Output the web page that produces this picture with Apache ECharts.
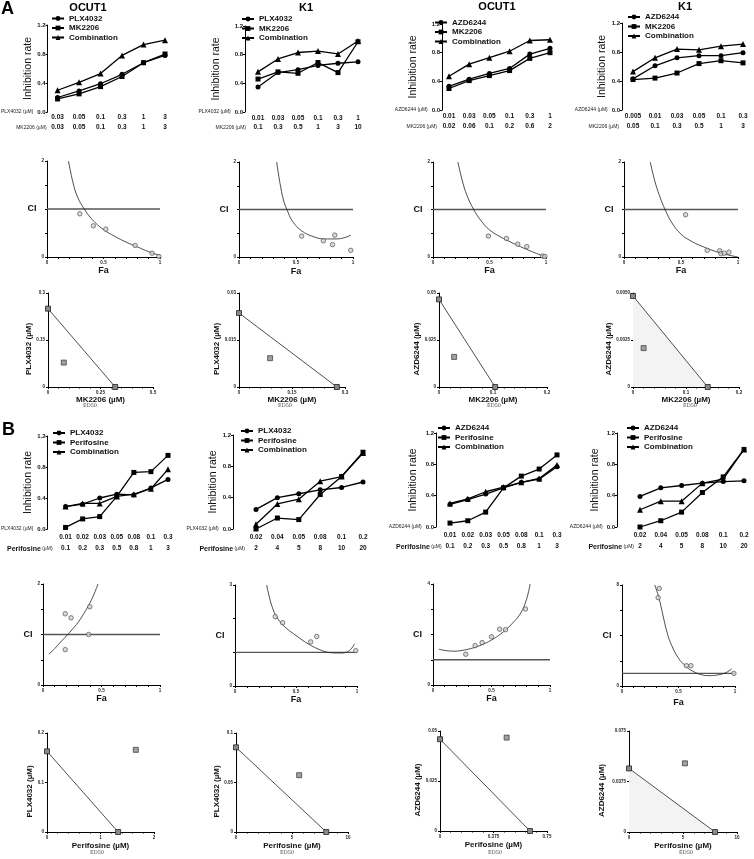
<!DOCTYPE html>
<html><head><meta charset="utf-8">
<script src="https://cdn.jsdelivr.net/npm/echarts@6/dist/echarts.min.js"></script>
<style>html,body{margin:0;padding:0;background:#fff}#c{width:754px;height:859px}</style>
</head><body><div id="c"></div>
<script>
// ================= DATA =================
// ---- Section A, row 1: inhibition rate vs dose ----
const A1_dose1 = ['0.03','0.05','0.1','0.3','1','3'];        // PLX4032 (µM)
const A1_dose2 = ['0.03','0.05','0.1','0.3','1','3'];        // MK2206 (µM)
const A1_drug1 = [0.20,0.29,0.39,0.52,0.68,0.78];
const A1_drug2 = [0.18,0.25,0.35,0.49,0.68,0.80];
const A1_comb  = [0.30,0.41,0.53,0.78,0.93,0.99];

const A2_dose1 = ['0.01','0.03','0.05','0.1','0.3','1'];     // PLX4032
const A2_dose2 = ['0.1','0.3','0.5','1','3','10'];           // MK2206
const A2_drug1 = [0.35,0.55,0.59,0.65,0.68,0.70];
const A2_drug2 = [0.46,0.56,0.54,0.69,0.55,0.98];
const A2_comb  = [0.56,0.74,0.83,0.85,0.81,0.99];

const A3_dose1 = ['0.01','0.03','0.05','0.1','0.3','1'];     // AZD6244
const A3_dose2 = ['0.02','0.06','0.1','0.2','0.6','2'];      // MK2206
const A3_drug1 = [0.33,0.43,0.51,0.58,0.78,0.86];
const A3_drug2 = [0.30,0.41,0.48,0.55,0.72,0.80];
const A3_comb  = [0.47,0.64,0.73,0.82,0.97,0.98];

const A4_dose1 = ['0.005','0.01','0.03','0.05','0.1','0.3']; // AZD6244
const A4_dose2 = ['0.05','0.1','0.3','0.5','1','3'];         // MK2206
const A4_drug1 = [0.43,0.61,0.72,0.75,0.75,0.79];
const A4_drug2 = [0.42,0.44,0.51,0.64,0.68,0.65];
const A4_comb  = [0.53,0.72,0.84,0.83,0.88,0.91];

// ---- Section B, row 1 ----
const B1_dose1 = ['0.01','0.02','0.03','0.05','0.08','0.1','0.3']; // PLX4032
const B1_dose2 = ['0.1','0.2','0.3','0.5','0.8','1','3'];           // Perifosine
const B1_drug1 = [0.29,0.32,0.40,0.45,0.44,0.53,0.64];
const B1_drug2 = [0.02,0.13,0.16,0.42,0.73,0.74,0.95];
const B1_comb  = [0.29,0.33,0.33,0.42,0.45,0.52,0.77];

const B2_dose1 = ['0.02','0.04','0.05','0.08','0.1','0.2'];  // PLX4032
const B2_dose2 = ['2','4','5','8','10','20'];                // Perifosine
const B2_drug1 = [0.25,0.40,0.45,0.50,0.53,0.60];
const B2_drug2 = [0.00,0.14,0.12,0.44,0.67,0.98];
const B2_comb  = [0.06,0.32,0.38,0.61,0.67,0.97];

const B3_dose1 = ['0.01','0.02','0.03','0.05','0.08','0.1','0.3']; // AZD6244
const B3_dose2 = ['0.1','0.2','0.3','0.5','0.8','1','3'];           // Perifosine
const B3_drug1 = [0.29,0.35,0.42,0.50,0.57,0.61,0.77];
const B3_drug2 = [0.05,0.08,0.19,0.50,0.65,0.74,0.92];
const B3_comb  = [0.30,0.36,0.45,0.51,0.57,0.62,0.79];

const B4_dose1 = ['0.02','0.04','0.05','0.08','0.1','0.2'];  // AZD6244
const B4_dose2 = ['2','4','5','8','10','20'];                // Perifosine
const B4_drug1 = [0.39,0.50,0.53,0.56,0.58,0.59];
const B4_drug2 = [0.00,0.08,0.19,0.44,0.64,0.99];
const B4_comb  = [0.22,0.33,0.33,0.56,0.61,0.99];

const CI_REF = [[0,1],[1,1]];
const A5_pts = [[0.29,0.90],[0.41,0.65],[0.52,0.58],[0.78,0.24],[0.93,0.08],[0.99,0.01]];
const A5_fit = [[0.19,2.0],[0.23,1.55],[0.27,1.25],[0.33,1.0],[0.40,0.78],[0.50,0.57],[0.60,0.43],[0.70,0.31],[0.80,0.21],[0.90,0.11],[1.0,0.03]];
const A6_pts = [[0.55,0.44],[0.74,0.34],[0.84,0.46],[0.82,0.26],[0.98,0.14]];
const A6_fit = [[0.33,2.0],[0.36,1.55],[0.39,1.2],[0.42,1.0],[0.47,0.75],[0.55,0.55],[0.65,0.43],[0.75,0.38],[0.85,0.38],[0.93,0.41],[0.98,0.46]];
const A7_pts = [[0.49,0.44],[0.65,0.39],[0.75,0.27],[0.83,0.22],[0.97,0.02],[0.99,0.01]];
const A7_fit = [[0.22,2.0],[0.26,1.6],[0.30,1.3],[0.36,1.0],[0.42,0.78],[0.50,0.57],[0.60,0.42],[0.70,0.30],[0.80,0.19],[0.90,0.09],[1.0,0.0]];
const A8_pts = [[0.54,0.89],[0.73,0.14],[0.84,0.13],[0.85,0.07],[0.88,0.08],[0.92,0.10]];
const A8_fit = [[0.23,2.0],[0.27,1.6],[0.31,1.3],[0.36,1.0],[0.42,0.72],[0.50,0.48],[0.60,0.32],[0.70,0.21],[0.80,0.12],[0.90,0.05],[1.0,0.0]];
const B5_pts = [[0.19,1.41],[0.24,1.33],[0.40,1.55],[0.39,1.0],[0.19,0.70]];
const B5_fit = [[0.05,0.61],[0.10,0.72],[0.15,0.85],[0.20,0.97],[0.25,1.10],[0.30,1.24],[0.35,1.42],[0.40,1.62],[0.44,1.82],[0.47,2.0]];
const B6_pts = [[0.33,2.06],[0.39,1.88],[0.62,1.31],[0.67,1.47],[0.99,1.05]];
const B6_fit = [[0.26,3.0],[0.30,2.4],[0.35,2.0],[0.42,1.72],[0.50,1.5],[0.60,1.25],[0.70,1.07],[0.78,0.99],[0.86,0.98],[0.93,1.03],[0.98,1.25]];
const B7_pts = [[0.28,1.22],[0.36,1.56],[0.42,1.68],[0.50,1.91],[0.57,2.21],[0.62,2.19],[0.79,3.01]];
const B7_fit = [[0.05,1.42],[0.10,1.37],[0.18,1.34],[0.25,1.37],[0.32,1.44],[0.40,1.56],[0.50,1.78],[0.60,2.1],[0.68,2.45],[0.75,2.85],[0.80,3.4],[0.83,4.0]];
const B8_pts = [[0.33,7.73],[0.32,7.0],[0.57,1.61],[0.61,1.61],[0.99,1.0]];
const B8_fit = [[0.29,8.0],[0.32,7.2],[0.34,6.5],[0.37,5.3],[0.40,4.2],[0.44,3.2],[0.50,2.2],[0.56,1.6],[0.62,1.2],[0.70,0.9],[0.77,0.82],[0.85,0.88],[0.92,1.06],[0.97,1.35]];

// ---- Isobolograms (ED50): isobole end points and combination point ----
const A9_iso  = [[0,0.25],[0.32,0]];      const A9_comb  = [[0.075,0.078]];
const A10_iso = [[0,0.0236],[0.277,0]];   const A10_comb = [[0.088,0.0092]];
const A11_iso = [[0,0.0466],[0.104,0]];   const A11_comb = [[0.028,0.016]];
const A12_iso = [[0,0.00484],[0.141,0]];  const A12_comb = [[0.02,0.00207]];
const B9_iso  = [[0,0.163],[1.33,0]];     const B9_comb  = [[1.66,0.166]];
const B10_iso = [[0,0.0855],[8.06,0]];    const B10_comb = [[5.64,0.0574]];
const B11_iso = [[0,0.0459],[0.631,0]];   const B11_comb = [[0.467,0.0467]];
const B12_iso = [[0,0.0472],[7.97,0]];    const B12_comb = [[5.18,0.051]];

// ================= BUILD =================
const F = '"Liberation Sans", Arial, sans-serif';
const grid=[], xAxis=[], yAxis=[], series=[], legend=[], graphic=[];

function addLine(p){
  const gi = grid.length;
  grid.push({left:p.l, top:p.t, width:p.w, height:p.h});
  const xi = xAxis.length;
  const lab = {interval:0, margin:-4, fontSize:6.5, fontWeight:'bold', color:'#111', fontFamily:F};
  const base = {type:'category', gridIndex:gi, boundaryGap:false, position:'bottom',
    axisLine:{show:false}, axisTick:{show:false}, splitLine:{show:false},
    nameLocation:'start', nameGap:p.ng, axisLabel:lab};
  xAxis.push(Object.assign({}, base, {data:p.c1, offset:p.o1, name:p.n1 + ' (µM)',
    nameTextStyle:{fontSize:5, color:'#222', fontFamily:F}}));
  if (p.rich2) {
    xAxis.push(Object.assign({}, base, {data:p.c2, offset:p.o2, name:'{b|' + p.n2 + '}{s| (µM)}',
      nameTextStyle:{fontFamily:F, rich:{b:{fontSize:7, fontWeight:'bold', color:'#111', fontFamily:F}, s:{fontSize:5, color:'#222', fontFamily:F}}}}));
  } else {
    xAxis.push(Object.assign({}, base, {data:p.c2, offset:p.o2, name:p.n2 + ' (µM)',
      nameTextStyle:{fontSize:5, color:'#222', fontFamily:F}}));
  }
  const yi = yAxis.length;
  yAxis.push({type:'value', gridIndex:gi, min:0, max:1.2, interval:0.4, offset:p.yo,
    axisLine:{show:true, lineStyle:{color:'#000', width:1}},
    axisTick:{show:true, length:2, lineStyle:{color:'#000'}}, splitLine:{show:false},
    axisLabel:{formatter:v=>v.toFixed(1), fontSize:6, fontWeight:'bold', color:'#111', margin:2, fontFamily:F},
    name:'Inhibition rate', nameLocation:'middle', nameGap:p.yng,
    nameTextStyle:{fontSize:10.5, color:'#111', fontFamily:F}});
  const syms = ['circle','rect','triangle'];
  const names = [p.n1, p.n2, 'Combination'];
  [p.d1, p.d2, p.d3].forEach((d,k)=>series.push({type:'line', name:names[k], xAxisIndex:xi, yAxisIndex:yi,
    data:d, symbol:syms[k], symbolSize:k===2?6:5, showSymbol:true, silent:true,
    lineStyle:{color:'#000', width:1.3}, itemStyle:{color:'#000'}, z:3}));
  legend.push({orient:'vertical', left:p.lgl, top:p.lgt, itemWidth:12, itemHeight:6, itemGap:0.5, padding:0,
    data:names, selectedMode:false,
    textStyle:{fontSize:8, fontWeight:'bold', color:'#111', lineHeight:9, fontFamily:F}});
}

function addCI(p){
  const gi = grid.length;
  grid.push({left:p.l, top:p.t, width:p.w, height:p.h});
  const xi = xAxis.length, yi = yAxis.length;
  xAxis.push({type:'value', gridIndex:gi, min:0, max:1, interval:0.5,
    axisLine:{lineStyle:{color:'#000', width:1}}, axisTick:{length:2, lineStyle:{color:'#000'}},
    minorTick:{show:true, splitNumber:5, length:2, lineStyle:{color:'#000'}}, splitLine:{show:false},
    axisLabel:{fontSize:4.5, margin:3, color:'#222', fontWeight:'bold', fontFamily:F},
    name:'Fa', nameLocation:'middle', nameGap:p.xng,
    nameTextStyle:{fontSize:9, fontWeight:'bold', color:'#111', fontFamily:F}});
  yAxis.push({type:'value', gridIndex:gi, min:0, max:p.ymax, interval:p.yint,
    axisLine:{show:true, lineStyle:{color:'#000', width:1}}, axisTick:{show:true, length:2, lineStyle:{color:'#000'}},
    splitLine:{show:false},
    axisLabel:{fontSize:4.5, margin:3, color:'#222', fontWeight:'bold', fontFamily:F,
      formatter:v=>(v===0||v===p.ymax)?String(v):''},
    name:'CI', nameLocation:'middle', nameRotate:0, nameGap:p.yng,
    nameTextStyle:{fontSize:9, fontWeight:'bold', color:'#111', fontFamily:F}});
  series.push({type:'line', xAxisIndex:xi, yAxisIndex:yi, data:CI_REF, symbol:'none', silent:true,
    lineStyle:{color:'#555', width:1.3}});
  series.push({type:'line', xAxisIndex:xi, yAxisIndex:yi, data:p.fit, symbol:'none', smooth:0.4, silent:true,
    lineStyle:{color:'#222', width:0.8}});
  series.push({type:'scatter', xAxisIndex:xi, yAxisIndex:yi, data:p.pts, symbol:'circle', symbolSize:4.5, silent:true,
    itemStyle:{color:'#cfcfcf', borderColor:'#444', borderWidth:0.8}, z:4});
}

function addIso(p){
  const gi = grid.length;
  grid.push({left:p.l, top:p.t, width:p.w, height:p.h});
  const xi = xAxis.length, yi = yAxis.length;
  xAxis.push({type:'value', gridIndex:gi, min:0, max:p.xmax, interval:p.xint,
    axisLine:{lineStyle:{color:'#000', width:1}}, axisTick:{length:2, lineStyle:{color:'#000'}},
    minorTick:{show:true, splitNumber:5, length:1.5, lineStyle:{color:'#000'}}, splitLine:{show:false},
    axisLabel:{fontSize:4.5, margin:3, color:'#222', fontWeight:'bold', fontFamily:F},
    name:p.xname + ' (µM)', nameLocation:'middle', nameGap:p.xng,
    nameTextStyle:{fontSize:8, fontWeight:'bold', color:'#111', fontFamily:F}});
  yAxis.push({type:'value', gridIndex:gi, min:0, max:p.ymax, interval:p.yint,
    axisLine:{show:true, lineStyle:{color:'#000', width:1}}, axisTick:{show:true, length:2, lineStyle:{color:'#000'}},
    splitLine:{show:false},
    axisLabel:{fontSize:4.5, margin:3, color:'#222', fontWeight:'bold', fontFamily:F,
      formatter: p.yfmt || (v=>String(v))},
    name:p.yname + ' (µM)', nameLocation:'middle', nameGap:p.yng,
    nameTextStyle:{fontSize:8, fontWeight:'bold', color:'#111', fontFamily:F, padding:[0,18,0,0]}});
  const s = {type:'line', xAxisIndex:xi, yAxisIndex:yi, data:p.iso, symbol:'rect', symbolSize:5, showSymbol:true, silent:true,
    lineStyle:{color:'#222', width:0.8}, itemStyle:{color:'#8a8a8a', borderColor:'#222', borderWidth:0.8}, z:3};
  if (p.fill) s.areaStyle = {color:'#f3f3f3', opacity:1, origin:'start'};
  series.push(s);
  series.push({type:'scatter', xAxisIndex:xi, yAxisIndex:yi, data:p.comb, symbol:'rect', symbolSize:5, silent:true,
    itemStyle:{color:'#8a8a8a', borderColor:'#222', borderWidth:0.8}, z:4});
  graphic.push({type:'text', x:p.edx, y:p.edy, silent:true,
    style:{text:'ED50', fontSize:5, fontFamily:'"DejaVu Serif", "Liberation Serif", serif', fill:'#444',
      align:'center', verticalAlign:'middle', textAlign:'center', textVerticalAlign:'middle'}});
}

// ---- Section A ----
addLine({l:56,t:25,w:109,h:87,yo:10,o1:6,o2:16,ng:11,yng:12.7,lgl:51,lgt:14,
  c1:A1_dose1,c2:A1_dose2,n1:'PLX4032',n2:'MK2206',d1:A1_drug1,d2:A1_drug2,d3:A1_comb});
addLine({l:258,t:26,w:100,h:86,yo:13,o1:7,o2:16,ng:12,yng:23.3,lgl:241,lgt:14.5,
  c1:A2_dose1,c2:A2_dose2,n1:'PLX4032',n2:'MK2206',d1:A2_drug1,d2:A2_drug2,d3:A2_comb});
addLine({l:449,t:24,w:101,h:86,yo:7,o1:7,o2:17,ng:12,yng:23.3,lgl:434,lgt:18,
  c1:A3_dose1,c2:A3_dose2,n1:'AZD6244',n2:'MK2206',d1:A3_drug1,d2:A3_drug2,d3:A3_comb});
addLine({l:633,t:23,w:110,h:87,yo:11,o1:7,o2:17,ng:14,yng:13.3,lgl:627,lgt:12.5,
  c1:A4_dose1,c2:A4_dose2,n1:'AZD6244',n2:'MK2206',d1:A4_drug1,d2:A4_drug2,d3:A4_comb});

addCI({l:47,t:161,w:113,h:96,ymax:2,yint:0.5,xng:7.5,yng:5,pts:A5_pts,fit:A5_fit});
addCI({l:239,t:162,w:114,h:95,ymax:2,yint:0.5,xng:10,yng:4,pts:A6_pts,fit:A6_fit});
addCI({l:433,t:162,w:113,h:95,ymax:2,yint:0.5,xng:8.5,yng:5,pts:A7_pts,fit:A7_fit});
addCI({l:624,t:162,w:114,h:95,ymax:2,yint:0.5,xng:8.5,yng:6,pts:A8_pts,fit:A8_fit});

addIso({l:48,t:293,w:105,h:94,xmax:0.5,xint:0.25,ymax:0.3,yint:0.15,xng:7,yng:12.3,xname:'MK2206',yname:'PLX4032',
  iso:A9_iso,comb:A9_comb,edx:90,edy:406});
addIso({l:239,t:293,w:106,h:94,xmax:0.3,xint:0.15,ymax:0.03,yint:0.015,xng:7,yng:13.3,xname:'MK2206',yname:'PLX4032',
  iso:A10_iso,comb:A10_comb,edx:285,edy:406});
addIso({l:439,t:293,w:108,h:94,xmax:0.2,xint:0.1,ymax:0.05,yint:0.025,xng:7,yng:17.7,xname:'MK2206',yname:'AZD6244',
  iso:A11_iso,comb:A11_comb,edx:494,edy:406});
addIso({l:633,t:293,w:106,h:94,xmax:0.2,xint:0.1,ymax:0.005,yint:0.0025,xng:7,yng:16.2,xname:'MK2206',yname:'AZD6244',
  iso:A12_iso,comb:A12_comb,edx:690,edy:406,fill:true,yfmt:v=>v===0?'0':v.toFixed(4)});

// ---- Section B ----
addLine({l:60,t:436,w:108,h:93,yo:18,o1:9,o2:20,ng:13,yng:10.3,lgl:52,lgt:428.5,rich2:true,
  c1:B1_dose1,c2:B1_dose2,n1:'PLX4032',n2:'Perifosine',d1:B1_drug1,d2:B1_drug2,d3:B1_comb});
addLine({l:256,t:435,w:107,h:94,yo:23,o1:9,o2:20,ng:11,yng:13,lgl:240,lgt:426.5,rich2:true,
  c1:B2_dose1,c2:B2_dose2,n1:'PLX4032',n2:'Perifosine',d1:B2_drug1,d2:B2_drug2,d3:B2_comb});
addLine({l:450,t:433,w:107,h:94,yo:14,o1:9,o2:20,ng:8,yng:17.3,lgl:437,lgt:423.5,rich2:true,
  c1:B3_dose1,c2:B3_dose2,n1:'AZD6244',n2:'Perifosine',d1:B3_drug1,d2:B3_drug2,d3:B3_comb});
addLine({l:640,t:433,w:104,h:94,yo:23,o1:9,o2:20,ng:6,yng:16.7,lgl:626,lgt:423.5,rich2:true,
  c1:B4_dose1,c2:B4_dose2,n1:'AZD6244',n2:'Perifosine',d1:B4_drug1,d2:B4_drug2,d3:B4_comb});

addCI({l:43,t:584,w:117,h:101,ymax:2,yint:0.5,xng:9.5,yng:6,pts:B5_pts,fit:B5_fit});
addCI({l:235,t:585,w:122,h:101,ymax:3,yint:1,xng:9.3,yng:8,pts:B6_pts,fit:B6_fit});
addCI({l:433,t:584,w:117,h:101,ymax:4,yint:1,xng:9,yng:11,pts:B7_pts,fit:B7_fit});
addCI({l:622,t:585,w:113,h:101,ymax:8,yint:2,xng:12,yng:7,pts:B8_pts,fit:B8_fit});

addIso({l:47,t:733,w:107,h:99,xmax:2,xint:1,ymax:0.2,yint:0.1,xng:10,yng:11,xname:'Perifosine',yname:'PLX4032',
  iso:B9_iso,comb:B9_comb,edx:97,edy:853});
addIso({l:236,t:733,w:112,h:99,xmax:10,xint:5,ymax:0.1,yint:0.05,xng:10,yng:13.7,xname:'Perifosine',yname:'PLX4032',
  iso:B10_iso,comb:B10_comb,edx:287,edy:853});
addIso({l:440,t:731,w:107,h:100,xmax:0.75,xint:0.375,ymax:0.05,yint:0.025,xng:10,yng:16.9,xname:'Perifosine',yname:'AZD6244',
  iso:B11_iso,comb:B11_comb,edx:495,edy:853});
addIso({l:629,t:731,w:108,h:101,xmax:10,xint:5,ymax:0.075,yint:0.0375,xng:10,yng:22.9,xname:'Perifosine',yname:'AZD6244',
  iso:B12_iso,comb:B12_comb,edx:686,edy:853,fill:true});

// ---- titles and section letters ----
function txt(t,x,y,size,align){
  graphic.push({type:'text', x:x, y:y, silent:true,
    style:{text:t, fontSize:size, fontWeight:'bold', fontFamily:F, fill:'#000',
      align:align, verticalAlign:'middle', textAlign:align, textVerticalAlign:'middle'}});
}
txt('A', 1, 9, 18, 'left');
txt('B', 2, 430, 18, 'left');
txt('OCUT1', 88, 8, 11, 'center');
txt('K1', 306, 8, 11, 'center');
txt('OCUT1', 497, 7, 11, 'center');
txt('K1', 685, 7, 11, 'center');

const chart = echarts.init(document.getElementById('c'), null, {renderer:'canvas'});
chart.setOption({animation:false, backgroundColor:'#fff', textStyle:{fontFamily:F},
  grid, xAxis, yAxis, series, legend, graphic});
</script></body></html>
